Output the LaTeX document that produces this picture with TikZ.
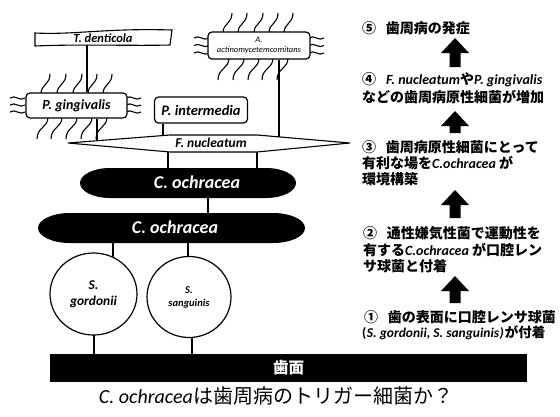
\documentclass[tikz,border=0pt]{standalone}
\usepackage{fontspec}
\setmainfont{Carlito}
\newfontfamily\jp{Noto Sans CJK JP}
\usetikzlibrary{shapes.geometric,backgrounds}
\newcommand\hairup[2]{\draw[hair] (#1,#2) .. controls (#1,{#2-10}) and ({#1+9},{#2-9}) .. ({#1+9},{#2-20});}
\newcommand\hairdn[2]{\draw[hair] (#1,#2) .. controls (#1,{#2+11}) and ({#1-11},{#2+10}) .. ({#1-11},{#2+22});}
\newcommand\hairside[2]{\draw[hair] (#1,#2) .. controls ({#1+5},{#2-4}) and ({#1+10},{#2+4}) .. ({#1+15},#2);}
\newcommand\blockarrow[3]{\fill (#1-5.5,#3) -- (#1-5.5,#2+15) -- (#1-14,#2+15) -- (#1,#2) -- (#1+14,#2+15) -- (#1+5.5,#2+15) -- (#1+5.5,#3) -- cycle;}
\begin{document}
\begin{tikzpicture}[x=1pt,y=-1pt,
  hair/.style={line width=1.1pt},
  conn/.style={line width=2.5pt},
  box/.style={draw, line width=1.2pt, rounded corners=4pt, fill=white, inner sep=0pt},
  rt/.style={anchor=west, inner sep=0pt, font=\jp\bfseries\fontsize{14}{16}\selectfont},
  it/.style={font=\bfseries\itshape\fontsize{#1}{#1}\selectfont}
]
\useasboundingbox (0,0) rectangle (560,416);

% x positions of connectors
\coordinate (k1) at (87,0);
\coordinate (k2) at (97,0);
\coordinate (k3) at (163,0);
\coordinate (k4) at (279,0);
\coordinate (k5) at (168,0);
\coordinate (k6) at (257,0);
\coordinate (k7) at (208,0);
\coordinate (k8) at (113,0);
\coordinate (k9) at (188,0);
\coordinate (k10) at (94,0);
\coordinate (k11) at (192,0);

% T. denticola
\draw[line width=1.1pt, fill=white] (35,33) .. controls (75,35) and (105,28) .. (172,30) -- (170,45) .. controls (130,46) and (80,44) .. (35,46) -- cycle;
\node[it=12.5, inner sep=0pt, minimum width=136pt, minimum height=13pt] (td) at (103,38.5) {T. denticola};

% P. gingivalis
\node[box, it=14, minimum width=101pt, minimum height=25pt] (pg) at (76.5,105.5) {P. gingivalis};
% P. intermedia
\node[box, it=14.5, minimum width=93pt, minimum height=26pt] (pi) at (201,110) {P. intermedia};
% A. actinomycetemcomitans
\node[box, font=\itshape\fontsize{8.5}{10}\selectfont, align=center, minimum width=102pt, minimum height=27pt] (aa) at (259,45.5) {A.\\actinomycetemcomitans};

% F. nucleatum spindle
\draw[line width=1.1pt, fill=white] (68,143) -- (170,135) -- (257,135) -- (350,143) -- (257,152) -- (170,152) -- cycle;
\node[it=13.5, inner sep=0pt] (fn) at (211,143) {F. nucleatum};

% C. ochracea pills
\fill (110,168) -- (266,168) arc[start angle=-90, end angle=90, x radius=30, y radius=15] -- (110,198) arc[start angle=90, end angle=270, x radius=30, y radius=15] -- cycle;
\node[it=18, text=white, inner sep=0pt] (c1) at (197,182.5) {C. ochracea};
\fill (70,213) -- (273,213) arc[start angle=-90, end angle=90, x radius=32, y radius=15] -- (70,243) arc[start angle=90, end angle=270, x radius=32, y radius=15] -- cycle;
\node[it=18, text=white, inner sep=0pt] (c2) at (175,227.5) {C. ochracea};

% streptococci
\node[draw, ellipse, line width=1.2pt, fill=white, inner sep=0pt, minimum width=87pt, minimum height=82pt, align=center, font=\bfseries\itshape\fontsize{13.5}{16}\selectfont] (sg) at (93.5,294) {S.\\gordonii};
\node[draw, ellipse, line width=1.2pt, fill=white, inner sep=0pt, minimum width=84pt, minimum height=81pt, align=center, font=\bfseries\itshape\fontsize{10.5}{13}\selectfont] (ss) at (189,297) {S.\\sanguinis};

% tooth surface
\node[fill=black, text=white, inner sep=0pt, minimum width=477pt, minimum height=28pt, font=\jp\bfseries\fontsize{15.5}{15.5}\selectfont] (bar) at (288.5,368) {歯面};

% caption
\node[inner sep=0pt, font=\jp\fontsize{20}{20}\selectfont] (cap) at (276,396) {{\rmfamily\itshape C. ochracea}は歯周病のトリガー細菌か？};

\begin{pgfonlayer}{background}
  % connectors
  \draw[conn] (td.south -| k1) -- (pg.north -| k1);
  \draw[conn] (pg.south -| k2) -- (fn.center -| k2);
  \draw[conn] (pi.south -| k3) -- (fn.center -| k3);
  \draw[conn] (aa.south -| k4) -- (fn.center -| k4);
  \draw[conn] (fn.center -| k5) -- (c1.center -| k5);
  \draw[conn] (fn.center -| k6) -- (c1.center -| k6);
  \draw[conn] (c1.center -| k7) -- (c2.center -| k7);
  \draw[conn] (c2.center -| k8) -- (sg.center -| k8);
  \draw[conn] (c2.center -| k9) -- (ss.center -| k9);
  \draw[conn] (sg.center -| k10) -- (bar.center -| k10);
  \draw[conn] (ss.center -| k11) -- (bar.center -| k11);
  % hairs of P. gingivalis
  \foreach \x in {41,57,73,88,103} {\hairup{\x}{94}}
  \foreach \x in {48,62,77,92,107} {\hairdn{\x}{117}}
  \foreach \y in {98,105,112} {\hairside{10}{\y} \hairside{126}{\y}}
  % hairs of A. actinomycetemcomitans
  \foreach \x in {223,238,254,269,284} {\hairup{\x}{33}}
  \foreach \x in {229,244,259,273,288} {\hairdn{\x}{58}}
  \foreach \y in {38,45.5,53} {\hairside{194}{\y} \hairside{309}{\y}}
\end{pgfonlayer}

% right-hand text
\node[rt] (t5) at (362,28) {⑤\hspace{0.7em}歯周病の発症};
\node[rt] (t4a) at (362,80) {④\hspace{0.7em}{\rmfamily\itshape F. nucleatum}や{\rmfamily\itshape P. gingivalis}};
\node[rt] (t4b) at (362,97) {などの歯周病原性細菌が増加};
\node[rt] (t3a) at (362,147) {③\hspace{0.7em}歯周病原性細菌にとって};
\node[rt] (t3b) at (362,163) {有利な場を{\rmfamily\itshape C.ochracea} が};
\node[rt] (t3c) at (362,179) {環境構築};
\node[rt] (t2a) at (363,233) {②\hspace{0.7em}通性嫌気性菌で運動性を};
\node[rt] (t2b) at (363,250) {有する{\rmfamily\itshape C.ochracea} が口腔レン};
\node[rt] (t2c) at (363,266) {サ球菌と付着};
\node[rt] (t1a) at (364,317) {①\hspace{0.7em}歯の表面に口腔レンサ球菌};
\node[rt, font=\jp\bfseries\fontsize{13.5}{16}\selectfont] (t1b) at (362,333) {{\rmfamily (\kern0.5pt\itshape S. gordonii, S. sanguinis\/\kern0.5pt)}\hspace{1pt}が付着};

% block arrows
\blockarrow{455}{38}{67}
\blockarrow{455}{111}{133}
\blockarrow{455}{190}{218}
\blockarrow{455}{276}{303}
\end{tikzpicture}
\end{document}
